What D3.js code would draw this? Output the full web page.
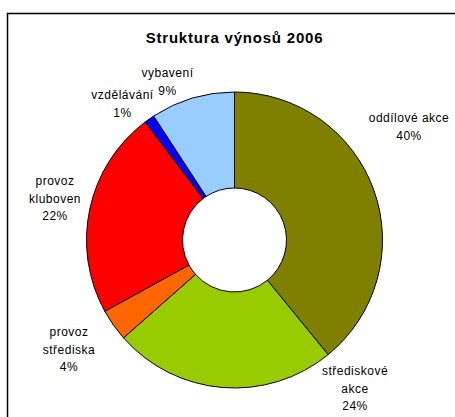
<!DOCTYPE html>
<html>
<head>
<meta charset="utf-8">
<script src="https://cdn.jsdelivr.net/npm/d3@7"></script>
<style>
  html, body { margin: 0; padding: 0; background: #fff; }
  svg { display: block; font-family: "Liberation Sans", Arial, sans-serif; }
</style>
</head>
<body>
<div class="container"></div>
<script>
var title = 'Struktura výnosů 2006';
var categories = ['oddílové akce', 'střediskové\nakce', 'provoz\nstřediska', 'provoz\nkluboven', 'vzdělávání', 'vybavení'];
var values = [39.1, 24.4, 3.5, 22.7, 1.1, 9.2];
var percentLabels = ['40%', '24%', '4%', '22%', '1%', '9%'];
var colors = ['#808000', '#99cc00', '#ff6600', '#ff0000', '#0000ff', '#99ccff'];

var WIDTH = 455,
	HEIGHT = 417,
	CX = 234.5,
	CY = 240,
	OUTER = 148,
	INNER = 52,
	LINE = 17.5;

// label anchors (centre x, first baseline) relative to the pie centre
var labelPos = [[174.5, -118], [120.5, 135], [-165.5, 96], [-179.5, -55], [-112, -141], [-67, -163]];

function translate(x, y) {
	return 'translate(' + x + ',' + y + ')';
}

var svg = d3.select('.container').append('svg')
	.attr('width', WIDTH)
	.attr('height', HEIGHT);

svg.append('rect')
	.attr('x', 7.5)
	.attr('y', 13.5)
	.attr('width', WIDTH)
	.attr('height', HEIGHT)
	.attr('fill', 'none')
	.attr('stroke', '#000')
	.attr('stroke-width', 1.5);

svg.append('text')
	.attr('x', CX)
	.attr('y', 43)
	.attr('text-anchor', 'middle')
	.style('font-size', '15px')
	.style('font-weight', 'bold')
	.style('letter-spacing', '0.8px')
	.text(title);

var pie = d3.pie()
	.sort(null)
	.value(function(d) { return d; });

var arc = d3.arc()
	.innerRadius(INNER)
	.outerRadius(OUTER);

var g = svg.append('g').attr('transform', translate(CX, CY));

g.selectAll('path')
	.data(pie(values)).enter()
	.append('path')
	.attr('d', arc)
	.attr('fill', function(d, i) { return colors[i]; })
	.attr('stroke', '#000')
	.attr('stroke-width', 1)
	.attr('stroke-linejoin', 'round');

var labels = g.selectAll('text.lbl')
	.data(categories).enter()
	.append('text')
	.attr('class', 'lbl')
	.attr('text-anchor', 'middle')
	.style('font-size', '12px')
	.style('letter-spacing', '0.5px')
	.attr('fill', '#000');

labels.each(function(d, i) {
	var lines = d.split('\n').concat([percentLabels[i]]);
	var t = d3.select(this);
	lines.forEach(function(s, j) {
		t.append('tspan')
			.attr('x', labelPos[i][0])
			.attr('y', labelPos[i][1] + j * LINE)
			.text(s);
	});
});
</script>
</body>
</html>
